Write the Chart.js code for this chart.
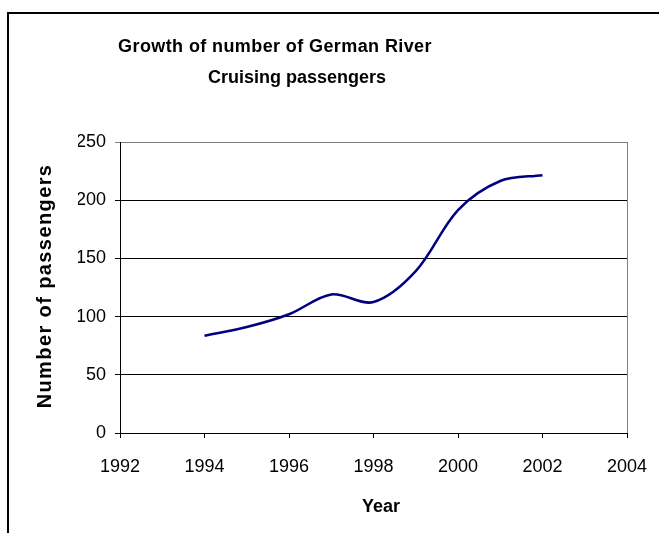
<!DOCTYPE html>
<html>
<head>
<meta charset="utf-8">
<script src="https://cdn.jsdelivr.net/npm/chart.js@4/dist/chart.umd.min.js"></script>
<style>
    body { margin: 0; background: #fff; }
    #wrap { position: relative; width: 659px; height: 533px; overflow: hidden; }
    #frame { position: absolute; left: 7px; top: 12px; width: 700px; height: 600px;
             border-top: 2px solid #000; border-left: 2px solid #000; }
    canvas { position: absolute; left: 0; top: 0; }
</style>
</head>
<body>
<div id="wrap">
    <div id="frame"></div>
    <canvas id="myChart" width="659" height="533"></canvas>
</div>
<script>
// data
const years = [1994, 1995, 1996, 1997, 1998, 1999, 2000, 2001, 2002];
const passengers = [83.5, 91, 102, 119, 112.5, 139, 191.5, 216.5, 221.5];
const titleLines = ['Growth of number of German River', 'Cruising passengers'];
const xTitle = 'Year';
const yTitle = 'Number of passengers';
const xTicks = {min: 1992, max: 2004, step: 2};
const yTicks = {min: 0, max: 250, step: 50};

const FONT = 'Arial, "Liberation Sans", sans-serif';

// titles are drawn by hand so they sit where Excel put them
const textPlugin = {
    id: 'texts',
    afterDraw(chart) {
        const ctx = chart.ctx;
        ctx.save();
        ctx.fillStyle = '#000';
        ctx.textAlign = 'center';
        ctx.textBaseline = 'middle';
        ctx.font = 'bold 18px ' + FONT;
        ctx.letterSpacing = '0.4px';
        ctx.fillText(titleLines[0], 275, 47);
        ctx.letterSpacing = '0px';
        ctx.fillText(titleLines[1], 297, 78);
        ctx.fillText(xTitle, 381, 507);
        ctx.font = 'bold 20px ' + FONT;
        ctx.letterSpacing = '1.4px';
        ctx.translate(45, 286);
        ctx.rotate(-Math.PI / 2);
        ctx.fillText(yTitle, 0, 0);
        ctx.restore();

        // grey right edge of the plot area
        const a = chart.chartArea;
        ctx.save();
        ctx.strokeStyle = '#808080';
        ctx.lineWidth = 1;
        ctx.beginPath();
        ctx.moveTo(a.right + 0.5, a.top);
        ctx.lineTo(a.right + 0.5, a.bottom);
        ctx.stroke();
        ctx.restore();
    }
};

const ctx = document.getElementById('myChart').getContext('2d');
const chart = new Chart(ctx, {
    type: 'line',
    data: {
        datasets: [{
            data: years.map((y, i) => ({x: y, y: passengers[i]})),
            borderColor: '#000080',
            borderWidth: 2.5,
            pointRadius: 0,
            tension: 0.33,
            fill: false
        }]
    },
    options: {
        responsive: false,
        animation: false,
        layout: {padding: {left: 78, top: 142, right: 32, bottom: 60}},
        plugins: {legend: {display: false}, title: {display: false}, tooltip: {enabled: false}},
        scales: {
            x: {
                type: 'linear',
                min: xTicks.min, max: xTicks.max,
                afterFit(s) { s.height = 40; s.paddingLeft = 0; s.paddingRight = 0; },
                ticks: {stepSize: xTicks.step, color: '#000', font: {family: FONT, size: 18}, padding: 18,
                        callback: v => String(v)},
                grid: {drawOnChartArea: false, color: '#000', tickLength: 5},
                border: {color: '#000', width: 1}
            },
            y: {
                min: yTicks.min, max: yTicks.max,
                afterFit(s) { s.width = 42; s.paddingTop = 0; s.paddingBottom = 0; },
                ticks: {stepSize: yTicks.step, color: '#000', font: {family: FONT, size: 18}, padding: 9},
                grid: {
                    color: c => (c.tick && c.tick.value === yTicks.max) ? '#808080' : '#000',
                    tickLength: 5
                },
                border: {color: '#000', width: 1}
            }
        }
    },
    plugins: [textPlugin]
});
</script>
</body>
</html>
